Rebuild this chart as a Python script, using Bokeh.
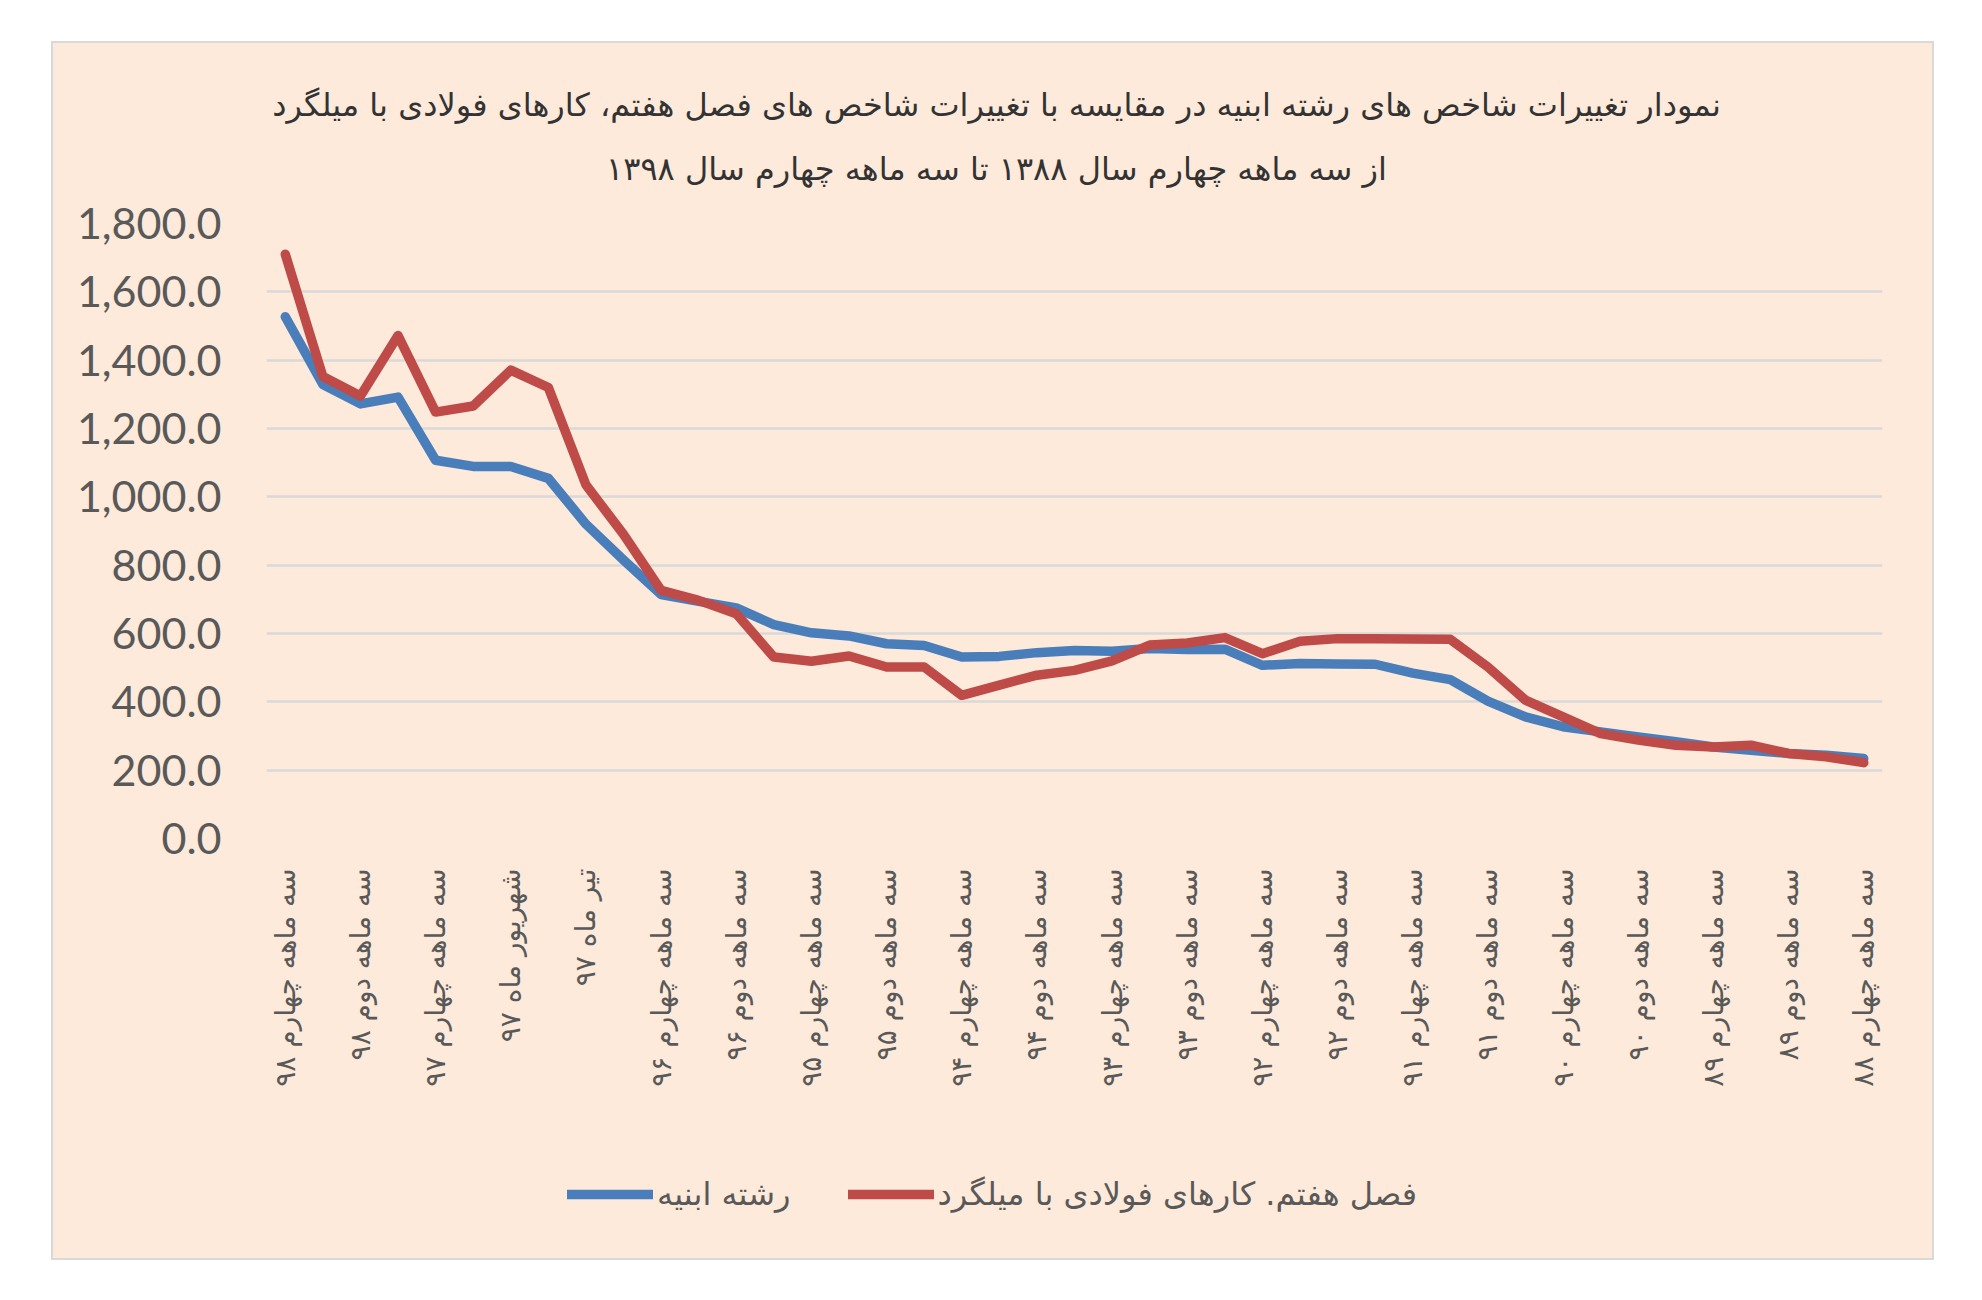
from math import pi, nan
from bokeh.plotting import figure
from bokeh.models import (FixedTicker, NumeralTickFormatter, Range1d, Label, Legend,
                          LegendItem, Spacer)
from bokeh.layouts import column, row
from bokeh.embed import file_html
from bokeh.resources import INLINE

# ---------------- data ----------------
categories = [
    "سه ماهه چهارم ۹۸", "سه ماهه سوم ۹۸", "سه ماهه دوم ۹۸", "سه ماهه اول ۹۸",
    "سه ماهه چهارم ۹۷", "سه ماهه سوم ۹۷", "شهریور ماه ۹۷", "مرداد ماه ۹۷",
    "تیر ماه ۹۷", "سه ماهه اول ۹۷",
    "سه ماهه چهارم ۹۶", "سه ماهه سوم ۹۶", "سه ماهه دوم ۹۶", "سه ماهه اول ۹۶",
    "سه ماهه چهارم ۹۵", "سه ماهه سوم ۹۵", "سه ماهه دوم ۹۵", "سه ماهه اول ۹۵",
    "سه ماهه چهارم ۹۴", "سه ماهه سوم ۹۴", "سه ماهه دوم ۹۴", "سه ماهه اول ۹۴",
    "سه ماهه چهارم ۹۳", "سه ماهه سوم ۹۳", "سه ماهه دوم ۹۳", "سه ماهه اول ۹۳",
    "سه ماهه چهارم ۹۲", "سه ماهه سوم ۹۲", "سه ماهه دوم ۹۲", "سه ماهه اول ۹۲",
    "سه ماهه چهارم ۹۱", "سه ماهه سوم ۹۱", "سه ماهه دوم ۹۱", "سه ماهه اول ۹۱",
    "سه ماهه چهارم ۹۰", "سه ماهه سوم ۹۰", "سه ماهه دوم ۹۰", "سه ماهه اول ۹۰",
    "سه ماهه چهارم ۸۹", "سه ماهه سوم ۸۹", "سه ماهه دوم ۸۹", "سه ماهه اول ۸۹",
    "سه ماهه چهارم ۸۸",
]

abnieh = [1527, 1329, 1272, 1292, 1107, 1089, 1089, 1054, 920, 815,
          714, 694, 675, 626, 602, 593, 570, 565, 531, 533,
          544, 550, 548, 556, 553, 554, 507, 512, 511, 510,
          484, 465, 402, 356, 327, 312, 297, 283, 268, 258,
          249, 244, 234]

foladi = [1710, 1352, 1295, 1472, 1248, 1266, 1371, 1320, 1035, 890,
          726, 697, 658, 531, 519, 534, 502, 502, 419, 449,
          478, 492, 520, 566, 572, 588, 541, 577, 585, 585,
          584, 583, 502, 405, 356, 307, 288, 273, 268, 273,
          249, 239, 222]

series_names = ["رشته ابنیه", "فصل هفتم. کارهای فولادی با میلگرد"]
title_lines = ["نمودار تغییرات شاخص های رشته ابنیه در مقایسه با تغییرات شاخص های فصل هفتم، کارهای فولادی با میلگرد",
               "از سه ماهه چهارم سال ۱۳۸۸ تا سه ماهه چهارم سال ۱۳۹۸"]
y_ticks = [0, 200, 400, 600, 800, 1000, 1200, 1400, 1600, 1800]

# ---------------- style ----------------
BG = "#FDEADA"
GRID = "#D9D9D9"
TXT = "#595959"
BLUE = "#4A7EBB"
RED = "#BE4B48"
FA_FONT = "DejaVu Sans"
BORDER = "2px solid #D9D9D9"

W = 1883
H_TITLE, H_MAIN, H_LEG = 152, 945, 122
ML, MR, MT, MB = 213, 54, 30, 300


def styled(sides):
    st = {"background-color": BG}
    for s in sides:
        st["border-" + s] = BORDER
    return st


def blank_fig(height):
    # frame shares the main chart's left/right borders; x data = pixel column inside the figure
    f = figure(width=W, height=height, output_backend="svg", toolbar_location=None,
               x_range=Range1d(ML, W - MR), y_range=Range1d(0, height),
               x_axis_type=None, y_axis_type=None,
               min_border_left=ML, min_border_right=MR, min_border_top=0, min_border_bottom=0,
               background_fill_alpha=0, border_fill_alpha=0, outline_line_color=None,
               title=None)
    f.xgrid.visible = False
    f.ygrid.visible = False
    return f


# ---------------- title panel ----------------
pt = blank_fig(H_TITLE)
pt.styles = styled(["top", "left", "right"])
for txt, y in zip(title_lines, [H_TITLE - 61, H_TITLE - 125]):
    pt.add_layout(Label(x=943, y=y, text=txt, text_align="center", text_baseline="middle",
                        text_font=FA_FONT, text_font_size="32px", text_color="#333333"))

# ---------------- main chart ----------------
xs = list(range(len(categories)))
x0, x1 = -0.5, len(categories) - 0.5

p = figure(width=W, height=H_MAIN, output_backend="svg", toolbar_location=None,
           x_range=Range1d(x0, x1), y_range=Range1d(0, 1800),
           min_border_left=ML, min_border_right=MR, min_border_top=MT, min_border_bottom=MB,
           background_fill_alpha=0, border_fill_alpha=0, outline_line_color=None,
           title=None)
p.styles = styled(["left", "right"])

p.xgrid.visible = False
p.ygrid.ticker = FixedTicker(ticks=y_ticks)
p.ygrid.grid_line_color = GRID
p.ygrid.grid_line_width = 2.5

p.yaxis.ticker = FixedTicker(ticks=y_ticks)
p.yaxis.formatter = NumeralTickFormatter(format="0,0.0")
p.yaxis.axis_line_color = None
p.yaxis.major_tick_line_color = None
p.yaxis.minor_tick_line_color = None
p.yaxis.major_tick_out = 0
p.yaxis.major_label_standoff = 45
p.yaxis.major_label_text_font = "Lato"
p.yaxis.major_label_text_font_size = "43px"
p.yaxis.major_label_text_color = TXT

p.xaxis.ticker = FixedTicker(ticks=xs[::2])
p.xaxis.major_label_overrides = {i: categories[i] for i in xs[::2]}
p.xaxis.major_label_orientation = pi / 2
p.xaxis.axis_line_color = None
p.xaxis.major_tick_line_color = None
p.xaxis.minor_tick_line_color = None
p.xaxis.major_tick_out = 0
p.xaxis.major_label_standoff = 30
p.xaxis.major_label_text_font = FA_FONT
p.xaxis.major_label_text_font_size = "28px"
p.xaxis.major_label_text_color = TXT

p.line(xs, abnieh, line_color=BLUE, line_width=9.5, line_join="round", line_cap="round")
p.line(xs, foladi, line_color=RED, line_width=9.5, line_join="round", line_cap="round")

# ---------------- legend panel ----------------
pl = blank_fig(H_LEG)
pl.styles = styled(["bottom", "left", "right"])
# legend keys only (a single NaN point draws nothing in the panel)
key_blue = pl.line([nan], [nan], line_color=BLUE, line_width=9.5, line_cap="round")
key_red = pl.line([nan], [nan], line_color=RED, line_width=9.5, line_cap="round")
legend = Legend(items=[LegendItem(label=series_names[0], renderers=[key_blue]),
                       LegendItem(label=series_names[1], renderers=[key_red])],
                orientation="horizontal", location=(514 - ML, 47),
                padding=0, margin=0, spacing=57, label_standoff=4,
                glyph_width=86, glyph_height=30, label_height=30,
                border_line_color=None, background_fill_alpha=0,
                label_text_font=FA_FONT, label_text_font_size="32px",
                label_text_color=TXT)
pl.add_layout(legend, "center")

layout = column(Spacer(height=41), row(Spacer(width=51), column(pt, p, pl)))
open("out.html", "w").write(file_html(layout, INLINE))
